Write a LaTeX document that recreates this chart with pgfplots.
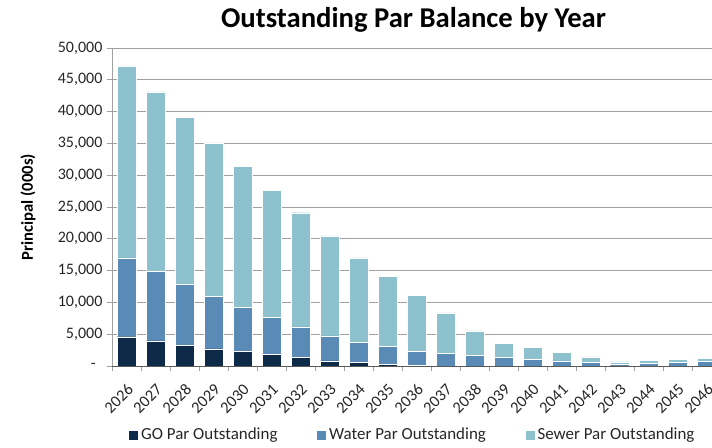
\documentclass[border=0pt]{standalone}
\usepackage{pgfplots}
\pgfplotsset{compat=1.18}
\usepackage{fontspec}
\setmainfont{Carlito}

\definecolor{goc}{HTML}{0D2A48}
\definecolor{waterc}{HTML}{5A8AB6}
\definecolor{sewerc}{HTML}{8DC1CE}
\definecolor{gridc}{HTML}{A0A0A0}

% values in $000s
\pgfplotstableread{
x  go    water  sewer
0  4600  12400  30200
1  3950  10950  28200
2  3300  9500   26300
3  2700  8200   24200
4  2250  6950   22200
5  1800  5800   20000
6  1350  4800   17950
7  800   3950   15700
8  600   3100   13300
9  300   2750   11050
10 50    2300   8800
11 0     1950   6400
12 0     1630   3900
13 0     1310   2200
14 0     1000   1900
15 0     790    1360
16 0     530    900
17 40    170    420
18 0     370    520
19 0     580    470
20 0     680    520
}\debt

\begin{document}
\begin{tikzpicture}
\begin{axis}[
  at={(0,0)}, anchor=south west,
  scale only axis, width=450pt, height=238.5pt,
  ybar stacked, bar width=0.655,
  xmin=-0.5, xmax=20.19, ymin=0, ymax=50000,
  scaled y ticks=false,
  axis x line*=bottom, axis y line*=left,
  x axis line style={draw=black!65, line width=0.7pt},
  y axis line style={draw=gridc, line width=0.7pt},
  tick align=outside,
  xtick={0,...,20},
  xticklabels={2026,2027,2028,2029,2030,2031,2032,2033,2034,2035,2036,2037,2038,2039,2040,2041,2042,2043,2044,2045,2046},
  major x tick style={draw=none},
  minor xtick={-0.5,0.5,...,19.5},
  minor x tick style={draw=gridc, line width=0.7pt},
  minor tick length=4pt,
  ytick={0,5000,...,50000},
  yticklabels={{-\hspace*{5pt}},{5,000},{10,000},{15,000},{20,000},{25,000},{30,000},{35,000},{40,000},{45,000},{50,000}},
  y tick style={draw=gridc, line width=0.7pt},
  major tick length=4pt,
  ymajorgrids, grid style={draw=gridc, line width=0.7pt},
  /pgf/number format/assume math mode=true,
  tick label style={font=\fontsize{12pt}{14pt}\selectfont, text=black!85},
  xticklabel style={rotate=45, anchor=north east, inner sep=1pt, xshift=-5pt, yshift=-5pt, font=\fontsize{12.3pt}{14pt}\selectfont},
  yticklabel style={inner sep=2pt, xshift=-1pt},
  title={Outstanding Par Balance by Year},
  title style={at={(0.5025,1)}, anchor=center, yshift=15pt, font=\bfseries\fontsize{21.5pt}{24pt}\selectfont},
  ylabel={Principal (000s)},
  every axis y label/.style={at={(axis description cs:-0.14,0.5)}, rotate=90, anchor=center, font=\bfseries\fontsize{12.5pt}{14pt}\selectfont},
  legend columns=3,
  legend style={at={(0.501,-0.217)}, anchor=center, draw=none, fill=none,
    font=\fontsize{12.7pt}{14pt}\selectfont, text=black!85,
    /tikz/every even column/.append style={column sep=27pt}},
  legend image code/.code={\fill[#1] (0pt,-3.7pt) rectangle (7.5pt,3.8pt);},
  every axis plot/.append style={draw=white, line width=0.3pt},
]
\addplot[fill=goc] table[x=x, y=go] {\debt};
\addlegendentry{GO Par Outstanding}
\addplot[fill=waterc] table[x=x, y=water] {\debt};
\addlegendentry{Water Par Outstanding}
\addplot[fill=sewerc] table[x=x, y=sewer] {\debt};
\addlegendentry{Sewer Par Outstanding}
\end{axis}
\pgfresetboundingbox
\path (-84pt,-61.5pt) rectangle (450pt,274.5pt);
\end{tikzpicture}
\end{document}
